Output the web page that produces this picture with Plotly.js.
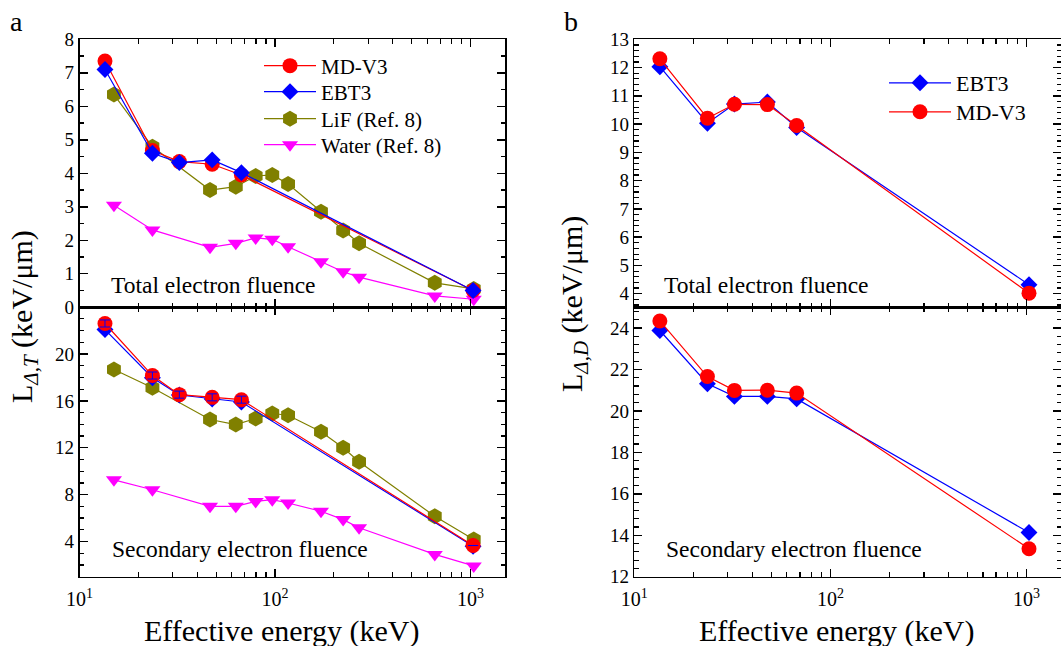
<!DOCTYPE html>
<html><head><meta charset="utf-8">
<script src="https://cdn.plot.ly/plotly-3.0.1.min.js"></script>
<style>body{margin:0;background:#fff;} #chart{width:1061px;height:646px;}</style>
</head><body><div id="chart"></div>
<script>
// ---------- data ----------
const energyFilm = [13.5, 23.6, 32.4, 47.7, 67.3, 1030];          // keV, MD-V3 / EBT3
const energyRef  = [15, 23.6, 46.5, 63, 79.6, 96.8, 116.6, 171.8, 223, 269, 656, 1038]; // keV, Ref. 8

// panel a : L_Δ,T
const aTotalMD    = [7.35, 4.68, 4.35, 4.27, 3.95, 0.50];
const aTotalEBT   = [7.10, 4.60, 4.32, 4.40, 4.02, 0.50];
const aTotalLiF   = [6.35, 4.79, 3.50, 3.60, 3.92, 3.95, 3.68, 2.85, 2.29, 1.91, 0.73, 0.55];
const aTotalWater = [3.05, 2.31, 1.79, 1.91, 2.07, 2.03, 1.81, 1.36, 1.06, 0.90, 0.34, 0.24];
const aSecMD      = [22.60, 18.16, 16.53, 16.30, 16.10, 3.66];
const aSecEBT     = [22.08, 17.97, 16.50, 16.15, 15.90, 3.60];
const aSecErr     = [0.3, 0.3, 0.3, 0.3, 0.3, 0];
const aSecLiF     = [18.67, 17.12, 14.41, 13.98, 14.49, 14.92, 14.77, 13.36, 12.00, 10.81, 6.15, 4.17];
const aSecWater   = [9.26, 8.42, 7.00, 7.00, 7.42, 7.57, 7.29, 6.58, 5.87, 5.17, 2.90, 1.92];

// panel b : L_Δ,D
const bTotalEBT = [12.03, 10.03, 10.71, 10.78, 9.88, 4.32];
const bTotalMD  = [12.31, 10.21, 10.70, 10.69, 9.95, 4.02];
const bSecEBT   = [23.88, 21.31, 20.70, 20.70, 20.58, 14.13];
const bSecMD    = [24.34, 21.66, 20.99, 21.00, 20.86, 13.35];

const xTickVals = [10, 100, 1000];
const xTickText = ['10<sup>1</sup>', '10<sup>2</sup>', '10<sup>3</sup>'];
const seriesNames = {md: 'MD-V3', ebt: 'EBT3', lif: 'LiF (Ref. 8)', water: 'Water (Ref. 8)'};

// ---------- styles ----------
const FONT = "'Liberation Serif', 'Times New Roman', serif";
const RED = '#ff0000', BLUE = '#0000ff', OLIVE = '#808000', MAG = '#ff00ff';
const W = 1061, H = 646;
const px = v => v / W, py = v => 1 - v / H;
const SZ = {circle: 15, diamond: 13, hexagon: 16, 'triangle-down': 14};

function tr(x, y, name, color, symbol, xa, ya, opts) {
  return Object.assign({
    type: 'scatter', mode: 'lines+markers', x: x, y: y, name: name,
    xaxis: xa, yaxis: ya,
    line: {color: color, width: 1.2},
    marker: {color: color, symbol: symbol, size: SZ[symbol], line: {width: 0}},
    showlegend: false, hoverinfo: 'x+y'
  }, opts || {});
}

const traces = [
  // panel a top
  tr(energyRef, aTotalLiF, seriesNames.lif, OLIVE, 'hexagon', 'x', 'y', {showlegend: true, legend: 'legend3'}),
  tr(energyRef, aTotalWater, seriesNames.water, MAG, 'triangle-down', 'x', 'y', {showlegend: true, legend: 'legend4'}),
  tr(energyFilm, aTotalMD, seriesNames.md, RED, 'circle', 'x', 'y', {showlegend: true, legend: 'legend'}),
  tr(energyFilm, aTotalEBT, seriesNames.ebt, BLUE, 'diamond', 'x', 'y', {showlegend: true, legend: 'legend2'}),
  // panel a bottom
  tr(energyRef, aSecLiF, seriesNames.lif, OLIVE, 'hexagon', 'x2', 'y2'),
  tr(energyRef, aSecWater, seriesNames.water, MAG, 'triangle-down', 'x2', 'y2'),
  tr(energyFilm, aSecEBT, seriesNames.ebt, BLUE, 'diamond', 'x2', 'y2'),
  tr(energyFilm, aSecMD, seriesNames.md, RED, 'circle', 'x2', 'y2'),
  tr(energyFilm, aSecMD, seriesNames.md, BLUE, 'circle', 'x2', 'y2', {
    mode: 'markers', marker: {size: 1, color: 'rgba(0,0,0,0)'},
    error_y: {type: 'data', array: aSecErr, visible: true, color: BLUE, thickness: 1, width: 5}
  }),
  // panel b top
  tr(energyFilm, bTotalEBT, seriesNames.ebt, BLUE, 'diamond', 'x3', 'y3', {showlegend: true, legend: 'legend5'}),
  tr(energyFilm, bTotalMD, seriesNames.md, RED, 'circle', 'x3', 'y3', {showlegend: true, legend: 'legend6'}),
  // panel b bottom
  tr(energyFilm, bSecEBT, seriesNames.ebt, BLUE, 'diamond', 'x4', 'y4'),
  tr(energyFilm, bSecMD, seriesNames.md, RED, 'circle', 'x4', 'y4')
];

const minorLog = [];
[10, 100, 1000].forEach(d => { for (let k = 2; k <= 9; k++) if (k * d <= 1500) minorLog.push(k * d); });

const base = {
  showline: true, linecolor: 'black', linewidth: 1.6, mirror: 'allticks',
  ticks: 'inside', ticklen: 8, tickwidth: 1.4, tickcolor: 'black',
  showgrid: false, zeroline: false, fixedrange: true,
  tickfont: {family: FONT, size: 19, color: 'black'}
};
const xLeft = [px(79.5), px(505)], xRight = [px(634.3), 1.0];
const yTop = [py(307.3), py(39.3)], yBot = [py(576.7), py(307.3)];

function xax(domain, anchor, labels) {
  return Object.assign({}, base, {
    type: 'log', range: [1, Math.log10(1500)], domain: domain, anchor: anchor,
    tickmode: 'array', tickvals: xTickVals, ticktext: xTickText, showticklabels: labels,
    ticklabelstandoff: 4,
    tickfont: {family: FONT, size: 20, color: 'black'},
    minor: {tickmode: 'array', tickvals: minorLog, ticks: 'inside', ticklen: 4.5, tickwidth: 1.2, tickcolor: 'black', showgrid: false}
  });
}
function yax(domain, anchor, range, dtick, mdt) {
  return Object.assign({}, base, {
    range: range, domain: domain, anchor: anchor, tick0: 0, dtick: dtick, tickmode: 'linear',
    minor: {ticks: 'inside', ticklen: 4.5, tickwidth: 1.2, tickcolor: 'black', dtick: mdt, tick0: 0, showgrid: false}
  });
}
function leg(x, yc, itemwidth, size) {
  return {x: px(x), y: py(yc), xanchor: 'left', yanchor: 'middle', bgcolor: 'rgba(0,0,0,0)',
          itemwidth: itemwidth, borderwidth: 0,
          font: {family: FONT, size: size, color: 'black'}};
}

const ann = (x, y, text, size, opts) => Object.assign({
  xref: 'paper', yref: 'paper', x: px(x), y: py(y), text: text, showarrow: false,
  xanchor: 'center', yanchor: 'middle', font: {family: FONT, size: size, color: 'black'}
}, opts || {});

const layout = {
  width: W, height: H, margin: {l: 0, r: 0, t: 0, b: 0},
  paper_bgcolor: 'white', plot_bgcolor: 'white',
  font: {family: FONT, color: 'black'},
  xaxis: xax(xLeft, 'y', false),
  xaxis2: xax(xLeft, 'y2', true),
  xaxis3: xax(xRight, 'y3', false),
  xaxis4: xax(xRight, 'y4', true),
  yaxis: yax(yTop, 'x', [0, 8], 1, 0.5),
  yaxis2: yax(yBot, 'x2', [1, 23.98], 4, 1),
  yaxis3: yax(yTop, 'x3', [3.52, 13], 1, 0.2),
  yaxis4: yax(yBot, 'x4', [12, 25], 2, 0.4),
  legend:  leg(259, 66, 52, 21),
  legend2: leg(259, 92, 52, 21),
  legend3: leg(259, 119, 52, 21),
  legend4: leg(259, 145, 52, 21),
  legend5: leg(884, 83, 62, 22),
  legend6: leg(884, 112, 62, 22),
  annotations: [
    ann(16, 22, 'a', 28),
    ann(571, 21, 'b', 28),
    ann(213, 285, 'Total electron fluence', 23.5),
    ann(240, 549, 'Secondary electron fluence', 23.5),
    ann(766.5, 285, 'Total electron fluence', 23.5),
    ann(794, 549, 'Secondary electron fluence', 23.5),
    ann(281.7, 631, 'Effective energy (keV)', 30),
    ann(836, 631, 'Effective energy (keV)', 30),
    ann(24, 317, 'L<sub><i>Δ,T</i></sub> (keV/μm)', 30, {textangle: -90}),
    ann(574, 304, 'L<sub><i>Δ,D</i></sub> (keV/μm)', 30, {textangle: -90})
  ]
};

Plotly.newPlot('chart', traces, layout, {staticPlot: true, displayModeBar: false});
</script>
</body></html>
